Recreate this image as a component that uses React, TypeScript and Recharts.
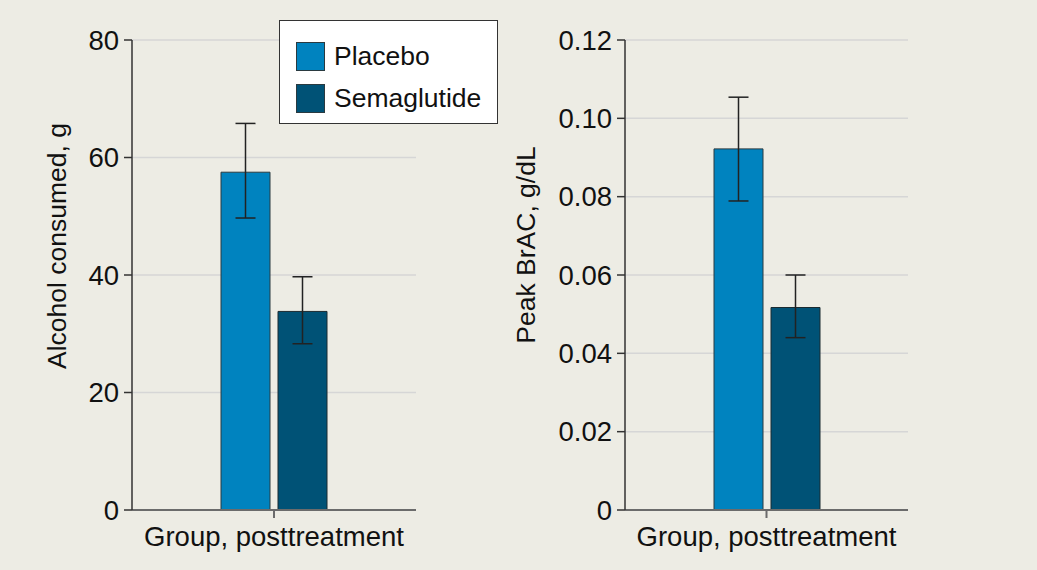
import React from 'react';
import {
  BarChart,
  Bar,
  XAxis,
  YAxis,
  CartesianGrid,
  ErrorBar,
  Legend
} from 'recharts';

// data
const groups = ['Group, posttreatment'];
const alcoholPlacebo = [57.5];
const alcoholPlaceboErr = [[7.8, 8.3]];
const alcoholSema = [33.8];
const alcoholSemaErr = [[5.5, 5.9]];
const bracPlacebo = [0.0922];
const bracPlaceboErr = [[0.0133, 0.0132]];
const bracSema = [0.0517];
const bracSemaErr = [[0.0077, 0.0083]];
const alcoholTicks = [0, 20, 40, 60, 80];
const bracTicks = [0, 0.02, 0.04, 0.06, 0.08, 0.1, 0.12];

const placeboColor = '#0083bf';
const semaColor = '#005276';
const bg = '#edece4';
const font = '"Liberation Sans", Arial, sans-serif';

const alcoholData = groups.map((g, i) => ({
  group: g,
  placebo: alcoholPlacebo[i],
  placeboErr: alcoholPlaceboErr[i],
  sema: alcoholSema[i],
  semaErr: alcoholSemaErr[i]
}));

const bracData = groups.map((g, i) => ({
  group: g,
  placebo: bracPlacebo[i],
  placeboErr: bracPlaceboErr[i],
  sema: bracSema[i],
  semaErr: bracSemaErr[i]
}));

const YTitle = ({ text, x, y }: { text: string; x: number; y: number }) => (
  <text
    transform={`translate(${x},${y}) rotate(-90)`}
    textAnchor="middle"
    dominantBaseline="central"
    fontSize={26.5}
    fontFamily={font}
    fill="#111"
  >
    {text}
  </text>
);

const LegendBox = (props: any) => {
  const items = props.payload || [];
  return (
    <div
      style={{
        width: 219,
        height: 104,
        background: '#fff',
        border: '1.5px solid #333',
        boxSizing: 'border-box',
        paddingTop: 14,
        paddingLeft: 16,
        fontFamily: font,
        fontSize: 26.5,
        color: '#111'
      }}
    >
      {items.map((it: any) => (
        <div key={it.value} style={{ display: 'flex', alignItems: 'center', height: 42 }}>
          <span
            style={{
              display: 'inline-block',
              width: 29,
              height: 29,
              background: it.color,
              border: '1px solid #2a3a40',
              boxSizing: 'border-box',
              marginRight: 9
            }}
          />
          {it.value}
        </div>
      ))}
    </div>
  );
};

interface PanelProps {
  data: any[];
  ticks: number[];
  domain: [number, number];
  width: number;
  yAxisWidth: number;
  rightMargin: number;
  title: string;
  titleX: number;
  titleY: number;
  fmt: (v: number) => string;
  legend?: boolean;
}

const Panel: React.FC<PanelProps> = ({
  data, ticks, domain, width, yAxisWidth, rightMargin, title, titleX, titleY, fmt, legend
}) => (
  <BarChart
    width={width}
    height={570}
    data={data}
    margin={{ top: 40, right: rightMargin, bottom: 0, left: 0 }}
    barSize={49}
    barGap={8}
  >
    <CartesianGrid vertical={false} stroke="#d6d6d6" strokeWidth={1.5} />
    <XAxis
      dataKey="group"
      height={60}
      stroke="#6b6b6b"
      strokeWidth={2}
      tickSize={8}
      tick={{ fill: '#111', fontSize: 27.5, fontFamily: font, dy: 6 }}
    />
    <YAxis
      width={yAxisWidth}
      domain={domain}
      ticks={ticks}
      tickFormatter={fmt}
      stroke="#333"
      strokeWidth={1.5}
      tickSize={8}
      tickMargin={5}
      tick={{ fill: '#111', fontSize: 27.5, fontFamily: font }}
    />
    {legend && (
      <Legend
        layout="vertical"
        align="center"
        verticalAlign="middle"
        content={<LegendBox />}
        wrapperStyle={{ left: 279, top: 20, width: 219, height: 104 }}
      />
    )}
    <Bar dataKey="placebo" name="Placebo" fill={placeboColor} stroke="#2a3a40" strokeWidth={1} isAnimationActive={false}>
      <ErrorBar dataKey="placeboErr" width={10} stroke="#222" strokeWidth={1.5} direction="y" />
    </Bar>
    <Bar dataKey="sema" name="Semaglutide" fill={semaColor} stroke="#1a2a30" strokeWidth={1} isAnimationActive={false}>
      <ErrorBar dataKey="semaErr" width={10} stroke="#222" strokeWidth={1.5} direction="y" />
    </Bar>
    <YTitle text={title} x={titleX} y={titleY} />
  </BarChart>
);

export default function App() {
  return (
    <div
      style={{
        position: 'absolute',
        left: 0,
        top: 0,
        width: 1037,
        height: 570,
        background: bg,
        overflow: 'hidden'
      }}
    >
      <div style={{ position: 'absolute', left: 0, top: 0 }}>
        <Panel
          data={alcoholData}
          ticks={alcoholTicks}
          domain={[0, 80]}
          width={500}
          yAxisWidth={132}
          rightMargin={84}
          title="Alcohol consumed, g"
          titleX={57}
          titleY={246}
          fmt={(v) => String(v)}
          legend
        />
      </div>
      <div style={{ position: 'absolute', left: 500, top: 0 }}>
        <Panel
          data={bracData}
          ticks={bracTicks}
          domain={[0, 0.12]}
          width={537}
          yAxisWidth={125}
          rightMargin={129}
          title="Peak BrAC, g/dL"
          titleX={26}
          titleY={245}
          fmt={(v) => (v === 0 ? '0' : v.toFixed(2))}
        />
      </div>
    </div>
  );
}
